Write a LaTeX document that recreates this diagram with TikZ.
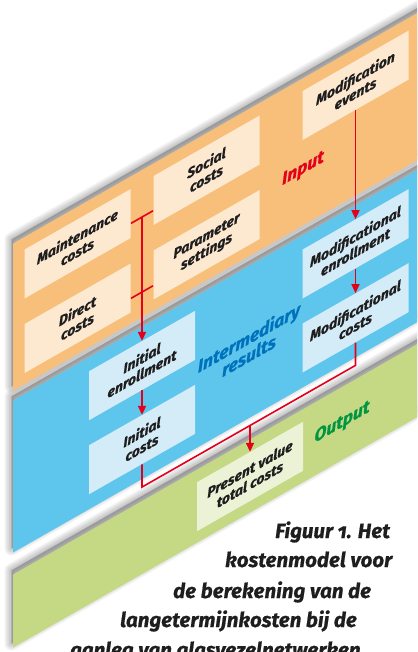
\documentclass[tikz,border=0pt]{standalone}
\usepackage{fontspec}
\setmainfont{Fira Sans}[Numbers=OldStyle, BoldItalicFeatures={FakeBold=0.7}]
\usetikzlibrary{arrows.meta}
\definecolor{layorange}{HTML}{F7BF7A}
\definecolor{boxorange}{HTML}{FDE8D0}
\definecolor{layblue}{HTML}{5EC5EC}
\definecolor{boxblue}{HTML}{D4EBF8}
\definecolor{laygreen}{HTML}{C5D984}
\definecolor{boxgreen}{HTML}{EBF2D5}
\definecolor{arrred}{HTML}{E2001A}
\definecolor{txtblue}{HTML}{0072BC}
\definecolor{txtgreen}{HTML}{009540}
\definecolor{txtdark}{HTML}{1E1E1E}
\newcommand\layshadow[2]{%
  \foreach \w in {14,11,8,5,2}{%
    \filldraw[black,opacity=0.05,line width=\w pt,line join=round,shift={(-1.5,-5)}] #1 rectangle #2;}}
\begin{document}
\begin{tikzpicture}[x=1pt,y=-1pt,
  boxtext/.style={font=\fontsize{14}{15.5}\selectfont\bfseries\itshape, text=txtdark, align=center},
  ibox/.style={boxtext, transform shape, minimum width=106pt, minimum height=49pt, inner sep=0pt, fill=boxorange},
  bbox/.style={ibox, fill=boxblue},
  gbox/.style={ibox, fill=boxgreen},
  conn/.style={draw=arrred, line width=1.6pt},
  arr/.style={conn, -{Triangle[length=9pt,width=8pt]}},
  lbl/.style={font=\fontsize{17.5}{18}\selectfont\bfseries\itshape, transform shape, align=center, inner sep=0pt},
  captext/.style={font=\fontsize{20.5}{24}\selectfont\bfseries\itshape, text=txtdark, anchor=base west, inner sep=0pt},
]
\useasboundingbox (0,0) rectangle (417,652);
\clip (0,0) rectangle (417,652);
\begin{scope}[cm={1,0.57,0,1,(0,0)}]
  % layers
  \layshadow{(13,582)}{(460,655)}
  \fill[laygreen] (13,582) rectangle (460,655);
  \layshadow{(13,408)}{(460,560)}
  \fill[layblue] (13,408) rectangle (460,560);
  \layshadow{(13,251)}{(460,398)}
  \fill[layorange] (13,251) rectangle (460,398);
  % input boxes
  \node[ibox] (maint) at (77.5,288) {Maintenance\\costs};
  \node[ibox] (direct) at (77.5,362.5) {Direct\\costs};
  \node[ibox] (social) at (206.5,288) {Social\\costs};
  \node[ibox] (param) at (206.5,362.5) {Parameter\\settings};
  \node[ibox] (modev) at (355.5,288) {Modification\\events};
  % intermediary boxes
  \node[bbox] (initenr) at (142,446.5) {Initial\\enrollment};
  \node[bbox] (initcost) at (142,520.5) {Initial\\costs};
  \node[bbox] (modenr) at (355.5,446.5) {Modificational\\enrollment};
  \node[bbox] (modcost) at (355.5,520.5) {Modificational\\costs};
  % output box
  \node[gbox] (pv) at (250,619) {Present value\\total costs};
  % labels
  \node[lbl, text=arrred, anchor=base] (lin) at (303,346) {Input};
  \node[lbl, text=txtblue] (lint) at (249,488) {Intermediary\\results};
  \node[lbl, text=txtgreen, anchor=base] (lout) at (342,622) {Output};
  % connectors
  \coordinate (j1l) at (131,298);
  \coordinate (j1r) at (153,298);
  \coordinate (j1) at (142,298);
  \coordinate (j2l) at (131,373);
  \coordinate (j2r) at (153,373);
  \coordinate (bl) at (142,568);
  \coordinate (br) at (355.5,568);
  \coordinate (bm) at (250,568);
  \draw[conn] (j1l) -- (j1r);
  \draw[conn] (j2l) -- (j2r);
  \draw[arr] (j1) -- (initenr.north);
  \draw[arr] (modev.south) -- (modenr.north);
  \draw[arr] (modenr.south) -- (modcost.north);
  \draw[arr] (initenr.south) -- (initcost.north);
  \draw[conn] (initcost.south) -- (bl) -- (br) -- (modcost.south);
  \draw[arr] (bm) -- (pv.north);
\end{scope}
% caption
\node[captext] (cap1) at (275,538) {Figuur 1. Het};
\node[captext] (cap2) at (225,567) {kostenmodel voor};
\node[captext] (cap3) at (173,598) {de berekening van de};
\node[captext] (cap4) at (120,627) {langetermijnkosten bij de};
\node[captext] (cap5) at (70,657) {aanleg van glasvezelnetwerken.};
\end{tikzpicture}
\end{document}
